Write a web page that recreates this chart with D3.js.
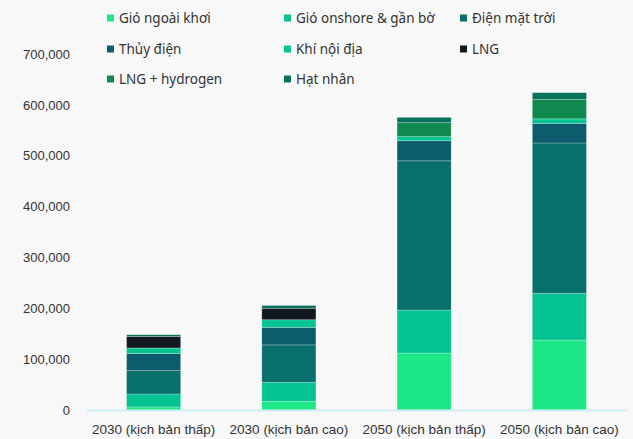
<!DOCTYPE html>
<html>
<head>
<meta charset="utf-8">
<script src="https://cdn.jsdelivr.net/npm/d3@7"></script>
<style>
  body { margin: 0; background: #f8f8f8; }
  svg { display: block; font-family: "Noto Sans", sans-serif; }
  .tick text { fill: #333; font-size: 13px; }
  .x-axis .tick text { font-size: 13.5px; }
  .legend text { fill: #333; font-size: 13.5px; }
</style>
</head>
<body>
<div id="chart"></div>
<script>
// Categories (x axis)
const scenarios = ["2030 (kịch bản thấp)", "2030 (kịch bản cao)", "2050 (kịch bản thấp)", "2050 (kịch bản cao)"];

// Series names, bottom to top
const sources = ["Gió ngoài khơi", "Gió onshore & gần bờ", "Điện mặt trời", "Thủy điện", "Khí nội địa", "LNG", "LNG + hydrogen", "Hạt nhân"];
const colors = ["#1be787", "#02c391", "#07706a", "#0d5c6e", "#04c592", "#111820", "#10894e", "#08735a"];

// Values (MW), one per scenario
const offshore = [6000, 17000, 112000, 137500];
const onshore = [25500, 37500, 84500, 92000];
const solar = [46000, 73500, 293500, 295500];
const hydro = [33500, 34500, 39500, 38500];
const gasDomestic = [11000, 15000, 8000, 9000];
const lng = [22500, 22500, 0, 0];
const lngHydrogen = [0, 0, 27500, 38000];
const nuclear = [3500, 5500, 10500, 13500];

const yTicks = [0, 100000, 200000, 300000, 400000, 500000, 600000, 700000];

const seriesValues = [offshore, onshore, solar, hydro, gasDomestic, lng, lngHydrogen, nuclear];

const svgWidth = 633;
const svgHeight = 439;
const margin = { top: 54, right: 6, bottom: 29, left: 86 };
const width = svgWidth - margin.left - margin.right;
const height = svgHeight - margin.top - margin.bottom;

const svg = d3.select("#chart")
  .append("svg")
  .attr("width", svgWidth)
  .attr("height", svgHeight);

const chartGroup = svg.append("g")
  .attr("transform", `translate(${margin.left}, ${margin.top})`);

// build table for stack
const table = scenarios.map((s, i) => {
  const row = { scenario: s };
  sources.forEach((src, j) => { row[src] = seriesValues[j][i]; });
  return row;
});

const stacked = d3.stack().keys(sources)(table);

const xScale = d3.scaleBand()
  .domain(scenarios)
  .range([0, width])
  .paddingInner(0.6)
  .paddingOuter(0.3);

const yScale = d3.scaleLinear()
  .domain([0, 700000])
  .range([height, 0]);

// y axis (labels only)
const leftAxis = d3.axisLeft(yScale)
  .tickValues(yTicks)
  .tickSize(0)
  .tickPadding(16)
  .tickFormat(d3.format(","));

chartGroup.append("g")
  .call(leftAxis)
  .call(g => g.select(".domain").remove());

// bars
chartGroup.selectAll(".series")
  .data(stacked)
  .enter()
  .append("g")
  .attr("fill", (d, i) => colors[i])
  .selectAll("rect")
  .data(d => d)
  .enter()
  .append("rect")
  .attr("x", d => xScale(d.data.scenario))
  .attr("width", xScale.bandwidth())
  .attr("y", d => yScale(d[1]))
  .attr("height", d => yScale(d[0]) - yScale(d[1]))
  .attr("stroke", "rgba(255,255,255,0.3)")
  .attr("stroke-width", 0.8);

// x axis
const bottomAxis = d3.axisBottom(xScale).tickSize(0).tickPadding(14);
const xAxis = chartGroup.append("g")
  .attr("class", "x-axis")
  .attr("transform", `translate(0, ${height})`)
  .call(bottomAxis);
xAxis.select(".domain")
  .attr("stroke", "#cdeef6")
  .attr("stroke-width", 2);

// legend
const legendPos = [
  [107, 18], [284, 18], [460, 18],
  [107, 49], [284, 49], [460, 49],
  [107, 79], [284, 79]
];

const legend = svg.append("g").attr("class", "legend");
sources.forEach((src, i) => {
  const item = legend.append("g")
    .attr("transform", `translate(${legendPos[i][0]}, ${legendPos[i][1]})`);
  item.append("rect")
    .attr("x", 0)
    .attr("y", -3.5)
    .attr("width", 7)
    .attr("height", 7)
    .attr("fill", colors[i]);
  item.append("text")
    .attr("x", 12)
    .attr("dy", "0.35em")
    .text(src);
});
</script>
</body>
</html>
